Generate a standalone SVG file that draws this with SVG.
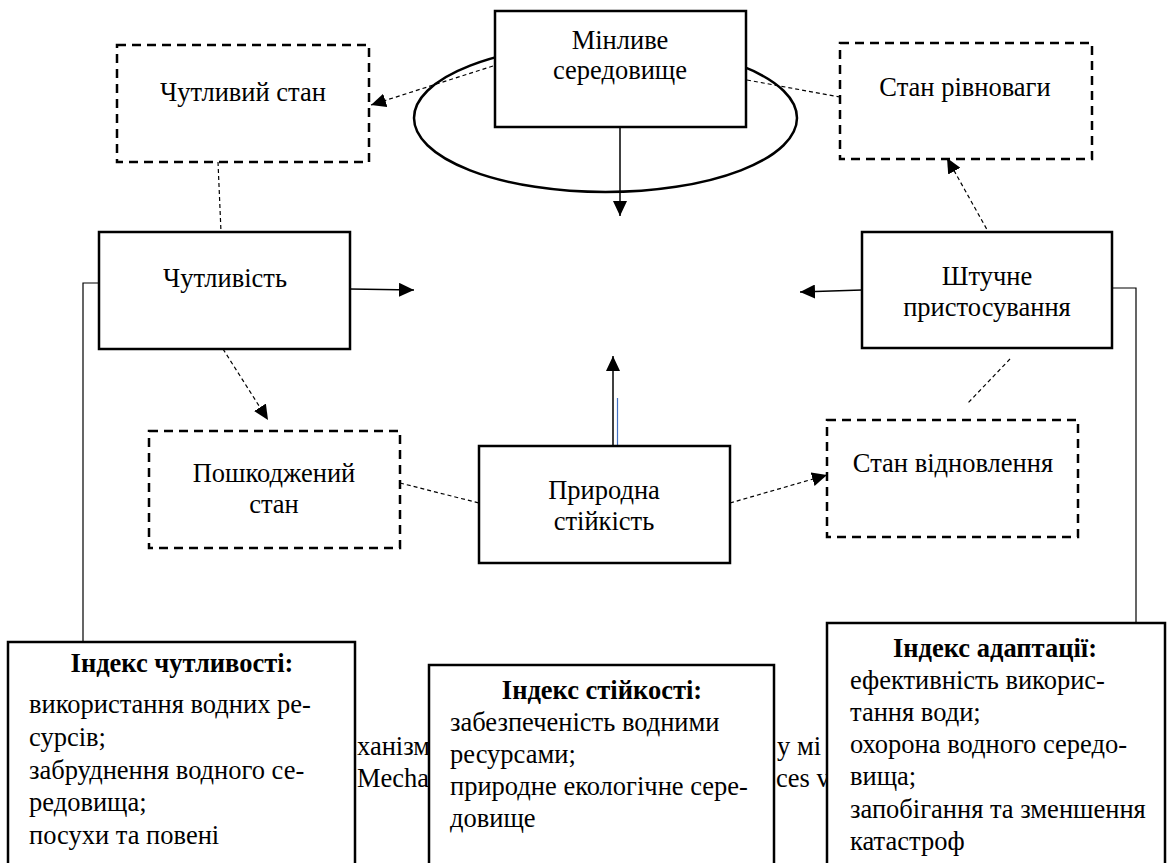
<svg xmlns="http://www.w3.org/2000/svg" width="1167" height="863" viewBox="0 0 1167 863">
<style>
text{font-family:'Liberation Serif','Times New Roman',serif;font-size:26.5px;fill:#000}
.c{text-anchor:middle}
.b{font-weight:bold}
.box{fill:#fff;stroke:#000;stroke-width:2.5}
.dbox{fill:#fff;stroke:#000;stroke-width:2.5;stroke-dasharray:9,6}
.sl{fill:none;stroke:#000;stroke-width:1.5}
.thin{fill:none;stroke:#000;stroke-width:1.2}
.dl{fill:none;stroke:#000;stroke-width:1.2;stroke-dasharray:4,3}
</style>
<defs>
<marker id="ah" markerUnits="userSpaceOnUse" markerWidth="16" markerHeight="14" refX="15" refY="7" orient="auto">
<path d="M0,0 L15,7 L0,14 z" fill="#000"/>
</marker>
</defs>
<g id="caption">
<text x="357" y="755">ханізм</text>
<text x="357" y="787">Mechan</text>
<text x="777" y="755">у мі</text>
<text x="776" y="787">ces v</text>
</g>
<g id="ellipse"><ellipse cx="605.5" cy="118" rx="191.5" ry="74" fill="none" stroke="#000" stroke-width="2.5"/></g>
<g id="connectors">
<line class="sl" x1="620" y1="127" x2="620" y2="216" marker-end="url(#ah)"/>
<line class="sl" x1="350" y1="289" x2="414" y2="290" marker-end="url(#ah)"/>
<line class="sl" x1="862" y1="290" x2="800" y2="292" marker-end="url(#ah)"/>
<line class="sl" x1="613" y1="446" x2="613" y2="356" marker-end="url(#ah)"/>
<line x1="617.5" y1="398" x2="617.5" y2="446" stroke="#4472C4" stroke-width="1.2"/>
<line class="dl" x1="493" y1="66" x2="371" y2="105" marker-end="url(#ah)"/>
<line class="dl" x1="747" y1="80" x2="840" y2="97"/>
<line class="dl" x1="990" y1="235" x2="947" y2="158" marker-end="url(#ah)"/>
<line class="dl" x1="218" y1="162" x2="221" y2="232"/>
<line class="dl" x1="223" y1="349" x2="268" y2="420" marker-end="url(#ah)"/>
<line class="dl" x1="400" y1="483" x2="479" y2="503"/>
<line class="dl" x1="730" y1="503" x2="827" y2="475" marker-end="url(#ah)"/>
<line class="dl" x1="1010" y1="359" x2="967" y2="404"/>
<polyline class="thin" points="99,283 83,283 83,643"/>
<polyline class="thin" points="1112,288 1136,288 1136,623"/>
</g>
<g id="minlyve">
<rect class="box" x="495" y="11" width="251" height="116"/>
<text class="c" x="620" y="49">Мінливе</text>
<text class="c" x="620" y="79">середовище</text>
</g>
<g id="chutlyvyi-stan">
<rect class="dbox" x="117" y="45" width="252" height="117"/>
<text class="c" x="243" y="101">Чутливий стан</text>
</g>
<g id="stan-rivnovagy">
<rect class="dbox" x="840" y="43" width="252" height="116"/>
<text class="c" x="965" y="96">Стан рівноваги</text>
</g>
<g id="chutlyvist">
<rect class="box" x="99" y="232" width="251" height="117"/>
<text class="c" x="225" y="287">Чутливість</text>
</g>
<g id="shtuchne">
<rect class="box" x="862" y="232" width="250" height="116"/>
<text class="c" x="987" y="285">Штучне</text>
<text class="c" x="987" y="316">пристосування</text>
</g>
<g id="poshkodzhenyi">
<rect class="dbox" x="149" y="431" width="251" height="117"/>
<text class="c" x="274" y="482">Пошкоджений</text>
<text class="c" x="274" y="513">стан</text>
</g>
<g id="pryrodna">
<rect class="box" x="479" y="446" width="251" height="117"/>
<text class="c" x="604" y="499">Природна</text>
<text class="c" x="604" y="530">стійкість</text>
</g>
<g id="vidnovlennia">
<rect class="dbox" x="827" y="420" width="251" height="117"/>
<text class="c" x="953" y="472">Стан відновлення</text>
</g>
<g id="index-chutlyvosti">
<rect class="box" x="8" y="642" width="347" height="260"/>
<text class="c b" x="182" y="672">Індекс чутливості:</text>
<text x="29" y="713">використання водних ре-</text>
<text x="29" y="746">сурсів;</text>
<text x="29" y="779">забруднення водного се-</text>
<text x="29" y="811">редовища;</text>
<text x="29" y="844">посухи та повені</text>
</g>
<g id="index-stiikosti">
<rect class="box" x="429" y="665" width="345" height="260"/>
<text class="c b" x="602" y="699">Індекс стійкості:</text>
<text x="450" y="731">забезпеченість водними</text>
<text x="450" y="763">ресурсами;</text>
<text x="450" y="795">природне екологічне сере-</text>
<text x="450" y="827">довище</text>
</g>
<g id="index-adaptatsii">
<rect class="box" x="827" y="623" width="338" height="280"/>
<text class="c b" x="995" y="657">Індекс адаптації:</text>
<text x="850" y="689">ефективність викорис-</text>
<text x="850" y="721">тання води;</text>
<text x="850" y="753">охорона водного середо-</text>
<text x="850" y="785">вища;</text>
<text x="850" y="818">запобігання та зменшення</text>
<text x="850" y="850">катастроф</text>
</g>
</svg>
